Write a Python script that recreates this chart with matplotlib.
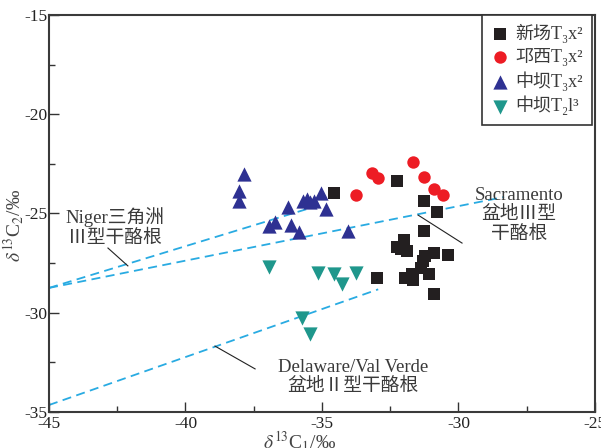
import matplotlib
matplotlib.use("Agg")
import matplotlib.pyplot as plt
from matplotlib.font_manager import FontProperties

plt.rcParams['font.family'] = ['Liberation Serif', 'Noto Sans CJK SC', 'DejaVu Serif']
plt.rcParams['mathtext.fontset'] = 'stix'
plt.rcParams['axes.unicode_minus'] = False

# 新场 T3x2 (squares)
xc_x = [-34.56, -32.25, -31.26, -30.79, -31.26, -32.00, -32.25, -32.11, -31.89, -30.90,
        -30.38, -31.23, -31.30, -31.37, -32.99, -31.96, -31.70, -31.67, -31.08, -30.90]
xc_y = [-23.97, -23.36, -24.37, -24.92, -25.88, -26.33, -26.69, -26.79, -26.89, -26.99,
        -27.09, -27.14, -27.39, -27.75, -28.25, -28.25, -28.05, -28.35, -28.05, -29.06]
# 邛西 T3x2 (circles)
qx_x = [-31.68, -33.16, -32.96, -31.26, -33.75, -30.89, -30.58]
qx_y = [-22.39, -22.97, -23.20, -23.18, -24.08, -23.78, -24.07]
# 中坝 T3x2 (up triangles)
zb_x = [-37.85, -38.04, -38.04, -36.93, -36.72, -36.23, -36.15, -35.84, -35.70, -35.55,
        -35.44, -35.29, -35.04, -34.85, -34.06]
zb_y = [-23.00, -23.88, -24.39, -25.61, -25.44, -24.69, -25.56, -25.95, -24.35, -24.25,
        -24.40, -24.35, -23.98, -24.77, -25.86]
# 中坝 T2l3 (down triangles)
zl_x = [-36.94, -35.14, -34.56, -34.26, -33.75, -35.74, -35.44]
zl_y = [-27.68, -27.98, -28.07, -28.57, -27.98, -30.28, -31.09]

labels = ['新场T₃x²', '邛西T₃x²', '中坝T₃x²', '中坝T₂l³']

# reference lines (x0, x1), (y0, y1)
niger_up = ([-45.0, -35.18], [-28.75, -24.62])
niger_low = ([-45.0, -28.33], [-28.75, -24.17])
delaware = ([-45.0, -32.94], [-34.65, -28.82])

line_c = '#29abe2'
txt_c = '#3a3a3a'

fig = plt.figure(figsize=(6.01, 4.48), dpi=100)
ax = fig.add_axes([0.0815, 0.0804, 0.9085, 0.8861])

for xs, ys in [niger_up, niger_low, delaware]:
    ax.plot(xs, ys, color=line_c, lw=1.3, dashes=(5, 3), zorder=1)

ax.scatter(xc_x, xc_y, marker='s', s=70, color='#231f20', lw=0, zorder=3, label=labels[0])
ax.scatter(qx_x, qx_y, marker='o', s=80, color='#ed1c24', lw=0, zorder=3, label=labels[1])
ax.scatter(zb_x, zb_y, marker='^', s=105, color='#2e3192', lw=0, zorder=3, label=labels[2])
ax.scatter(zl_x, zl_y, marker='v', s=105, color='#1f978c', lw=0, zorder=3, label=labels[3])

# annotations
ax.plot([-42.84, -42.11], [-26.74, -27.64], color='#222222', lw=0.8)
ax.text(-42.58, -25.68, 'Niger三角洲\nⅢ型干酪根', ha='center', va='center', fontsize=13.5,
        color=txt_c, linespacing=1.15)
ax.plot([-31.48, -29.87], [-25.08, -26.49], color='#222222', lw=0.8)
ax.text(-27.78, -25.08, 'Sacramento\n盆地Ⅲ型\n干酪根', ha='center', va='center', fontsize=13.5,
        color=txt_c, linespacing=1.15)
ax.plot([-38.92, -37.45], [-31.68, -32.83], color='#222222', lw=0.8)
ax.text(-33.86, -33.24, 'Delaware/Val Verde\n盆地Ⅱ型干酪根', ha='center', va='center', fontsize=13.5,
        color=txt_c, linespacing=1.1)

ax.set_xlim(-45, -25)
ax.set_ylim(-35, -15)
ax.set_xticks([-45, -40, -35, -30, -25])
ax.set_yticks([-35, -30, -25, -20, -15])
ax.set_xticks([-42.5, -37.5, -32.5, -27.5], minor=True)
ax.set_yticks([-32.5, -27.5, -22.5, -17.5], minor=True)
ax.tick_params(which='both', direction='in', top=False, right=False, colors='#333333',
               labelsize=12.5, labelcolor='#222222')
ax.tick_params(axis='x', pad=3)
ax.tick_params(axis='y', pad=1)
ax.tick_params(which='major', length=7, width=1)
ax.tick_params(which='minor', length=4, width=1)
for s in ax.spines.values():
    s.set_linewidth(1.5)
    s.set_color('#3a3a3a')

ax.set_xlabel(r'$\delta^{13}$C$_1$/‰', fontsize=14, color='#444444')
ax.set_ylabel(r'$\delta^{13}$C$_2$/‰', fontsize=14, color='#444444')
ax.xaxis.set_label_coords(0.458, -0.044, transform=ax.transAxes)
ax.yaxis.set_label_coords(-0.043, 0.47, transform=ax.transAxes)

leg = ax.legend(loc='upper right', bbox_to_anchor=(0.9945, 1.0), borderaxespad=0, frameon=True,
                fancybox=False, edgecolor='#333333', handletextpad=0.35, borderpad=0.5,
                labelspacing=0.28, handlelength=1.0, framealpha=1,
                prop=FontProperties(family=['Liberation Serif', 'Noto Sans CJK SC', 'DejaVu Serif'], size=13))
leg.get_frame().set_linewidth(1.2)
for t in leg.get_texts():
    t.set_color(txt_c)

fig.savefig('out.png', dpi=100)
